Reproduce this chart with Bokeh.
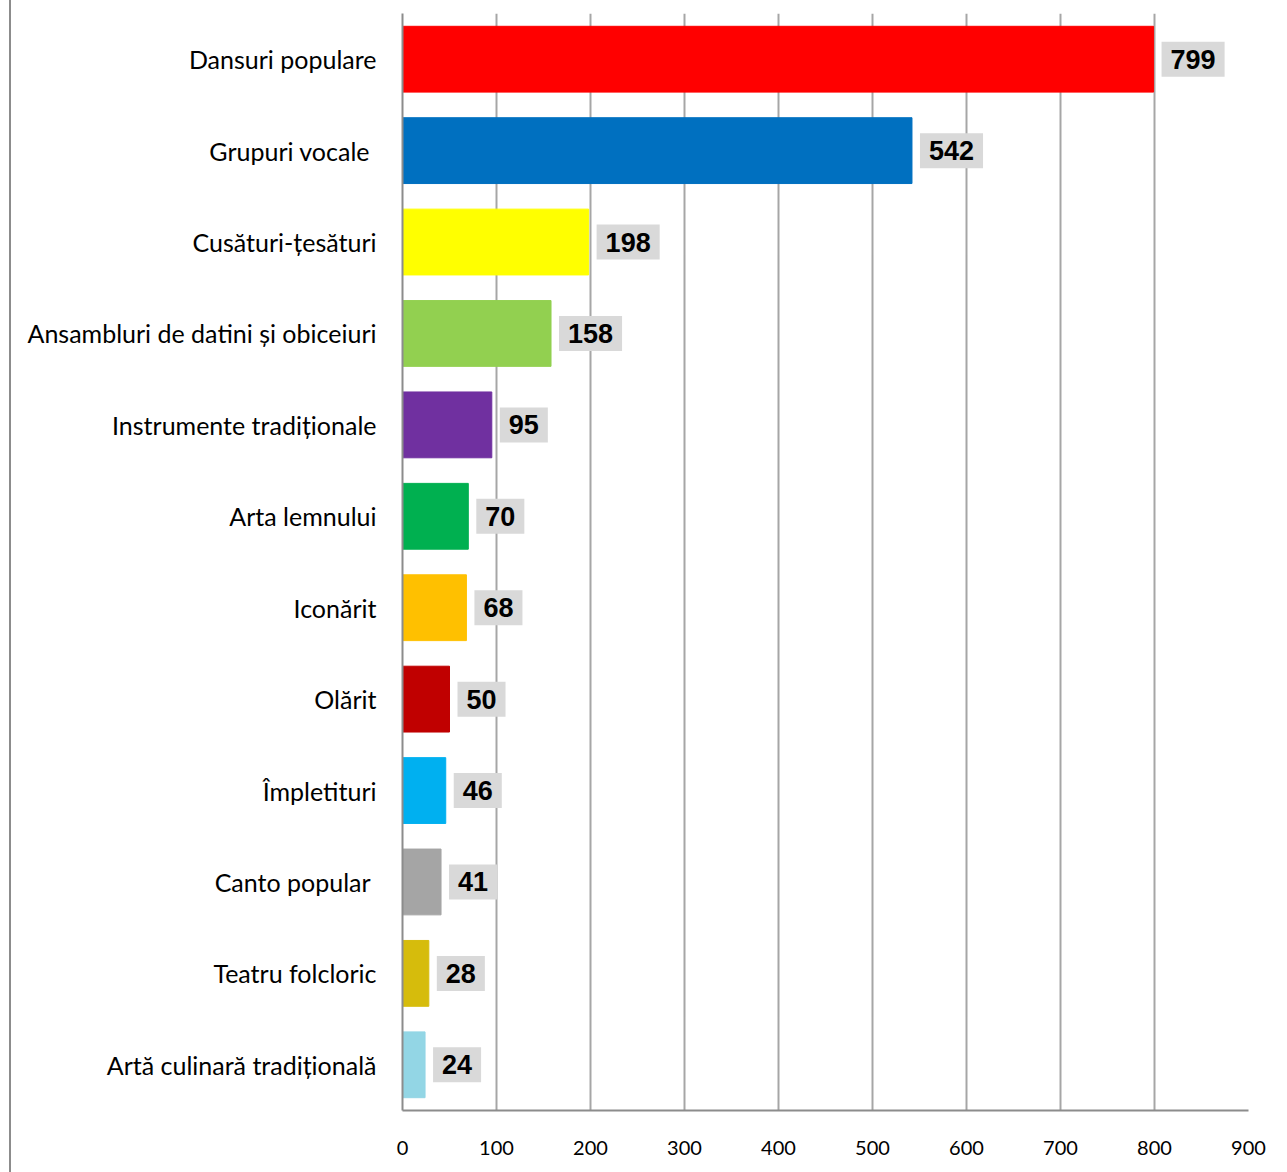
from bokeh.plotting import figure
from bokeh.models import ColumnDataSource, FactorRange, FixedTicker
from bokeh.embed import file_html
from bokeh.resources import INLINE
from bokeh.core.properties import value

categories = [
    "Dansuri populare",
    "Grupuri vocale\u00a0",
    "Cusături-țesături",
    "Ansambluri de datini și obiceiuri",
    "Instrumente tradiționale",
    "Arta lemnului",
    "Iconărit",
    "Olărit",
    "Împletituri",
    "Canto popular\u00a0",
    "Teatru folcloric",
    "Artă culinară tradițională",
]
counts = [799, 542, 198, 158, 95, 70, 68, 50, 46, 41, 28, 24]
colors = ["#FF0000", "#0070C0", "#FFFF00", "#92D050", "#7030A0", "#00B050",
          "#FFC000", "#C00000", "#00B0F0", "#A5A5A5", "#D6BC0C", "#93D6E5"]
x_ticks = [0, 100, 200, 300, 400, 500, 600, 700, 800, 900]

src = ColumnDataSource(dict(cat=categories, val=counts, col=colors,
                            lbl=[str(v) for v in counts]))

p = figure(width=1276, height=1172, output_backend="svg", toolbar_location=None,
           y_range=FactorRange(factors=list(reversed(categories)), range_padding=0),
           x_range=(0, 900),
           min_border_left=391, min_border_right=39, min_border_top=13,
           min_border_bottom=62)
p.outline_line_color = None
p.styles = {"border-left": "2px solid #8c8c8c", "margin-left": "9px"}

p.hbar(y="cat", right="val", left=0, height=0.72, color="col", source=src)

p.text(x="val", y="cat", text="lbl", source=src, x_offset=8,
       text_align="left", text_baseline="middle",
       text_font=value("Liberation Sans"), text_font_style="bold",
       text_font_size="27px", text_color="#000000",
       background_fill_color="#D9D9D9", padding=(9, 8))

p.xaxis.ticker = FixedTicker(ticks=x_ticks)
p.xaxis.major_tick_line_color = None
p.xaxis.minor_tick_line_color = None
p.xaxis.axis_line_color = "#8c8c8c"
p.xaxis.axis_line_width = 2
p.xaxis.major_label_standoff = 24
p.xaxis.major_label_text_font = "Lato"
p.xaxis.major_label_text_font_size = "20px"
p.xaxis.major_label_text_color = "#000000"

p.yaxis.major_tick_line_color = None
p.yaxis.minor_tick_line_color = None
p.yaxis.axis_line_color = "#8c8c8c"
p.yaxis.axis_line_width = 2
p.yaxis.major_label_standoff = 20
p.yaxis.major_label_text_font = "Lato"
p.yaxis.major_label_text_font_size = "25px"
p.yaxis.major_label_text_color = "#000000"

p.ygrid.grid_line_color = None
p.xgrid.grid_line_color = "#A6A6A6"
p.xgrid.grid_line_width = 2
p.xgrid.ticker = FixedTicker(ticks=x_ticks)

open("out.html", "w").write(file_html(p, INLINE))
